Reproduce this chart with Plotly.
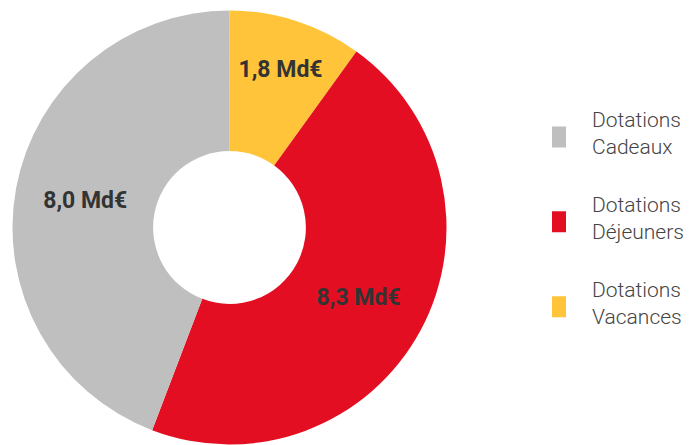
import plotly.graph_objects as go

labels = ["Dotations<br>Vacances", "Dotations<br>Déjeuners", "Dotations<br>Cadeaux"]
values = [1.8, 8.3, 8.0]
text_labels = ["1,8 Md€", "8,3 Md€", "8,0 Md€"]
colors = ["#ffc43a", "#e30e22", "#bfbfbf"]

W, H = 693, 445
cx, cy, r = 229.5, 227.5, 217

fig = go.Figure(go.Pie(
    labels=[l + "<br> " for l in labels],
    values=values,
    text=text_labels,
    texttemplate="%{text}",
    textinfo="text",
    textposition="inside",
    insidetextorientation="horizontal",
    textfont=dict(family="Roboto", size=23, color="#333333", weight="bold"),
    marker=dict(colors=colors, line=dict(width=0)),
    hole=0.352,
    sort=False,
    direction="clockwise",
    rotation=0,
    domain=dict(x=[max(0, (cx - r) / W), min(1, (cx + r) / W)],
                y=[max(0, (H - cy - r) / H), min(1, (H - cy + r) / H)]),
    hoverinfo="skip",
))

fig.update_layout(
    width=W, height=H,
    margin=dict(l=0, r=0, t=0, b=0, autoexpand=False),
    paper_bgcolor="white",
    plot_bgcolor="white",
    showlegend=True,
    legend=dict(
        x=552 / W, xanchor="left",
        y=1 - 231 / H, yanchor="middle",
        traceorder="reversed",
        font=dict(family="Roboto", size=21, color="#444444", weight=300),
        bgcolor="rgba(0,0,0,0)",
    ),
)

post = """
document.body.style.margin = '0';
function fixLegend(){
  document.querySelectorAll('.legend .legendpie').forEach(function(p){
    if (p.getAttribute('data-fixed') === '1' && p.getAttribute('d') === 'M10.5,10.5H-10.5V-10.5H10.5Z') return;
    p.setAttribute('d', 'M10.5,10.5H-10.5V-10.5H10.5Z');
    p.setAttribute('transform', 'translate(0,0)');
    var m = p.parentNode.getScreenCTM();
    if (!m) return;
    var lx = (555.5 - m.e) / m.a;
    p.setAttribute('transform', 'translate(' + lx + ',-9)');
    p.setAttribute('data-fixed', '1');
  });
}
fixLegend();
setInterval(fixLegend, 50);
"""

fig.write_html("out.html", post_script=post, config={"displayModeBar": False})
